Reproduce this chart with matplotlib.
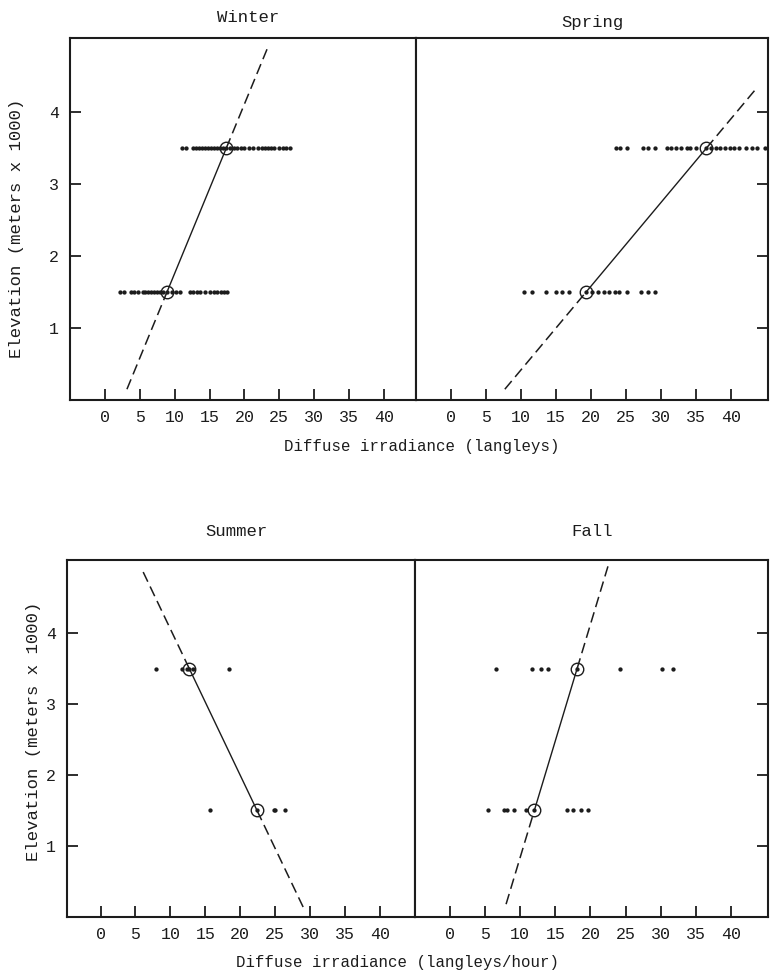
import matplotlib.pyplot as plt

# Diffuse irradiance vs. elevation, two stations, four seasons

low_elev = 1.5    # lower station (meters x 1000)
high_elev = 3.5   # upper station (meters x 1000)

# individual readings (langleys)
winter_low = [2.2, 2.7, 3.7, 4.2, 4.7, 5.4, 5.8, 6.2, 6.6, 7.0, 7.4, 7.9, 8.3, 8.9,
              9.6, 10.2, 10.8, 12.2, 12.7, 13.2, 13.7, 14.3, 15.1, 15.6, 16.1,
              16.6, 17.1, 17.5]
winter_high = [11.0, 11.6, 12.6, 13.1, 13.5, 13.9, 14.3, 14.8, 15.2, 15.6, 16.0,
               16.5, 16.9, 17.4, 18.0, 18.5, 19.0, 19.5, 20.0, 20.6, 21.2, 21.9,
               22.5, 22.9, 23.4, 23.8, 24.3, 25.0, 25.5, 26.0, 26.5]
spring_low = [10.4, 11.6, 13.6, 15.0, 15.9, 16.8, 19.3, 20.1, 21.0, 21.8, 22.6,
              23.4, 24.0, 25.1, 27.2, 28.2, 29.1]
spring_high = [23.6, 24.2, 25.2, 27.4, 28.2, 29.1, 30.8, 31.5, 32.2, 32.9, 33.7,
               34.1, 35.0, 36.5, 37.2, 37.8, 38.5, 39.2, 39.9, 40.5, 41.2, 42.1,
               43.0, 43.7, 44.9]

# hourly readings (langleys/hour)
summer_low = [15.6, 22.4, 24.8, 25.0, 26.4]
summer_high = [8.0, 11.7, 12.4, 12.7, 13.2, 18.4]
fall_low = [5.4, 7.7, 8.1, 9.1, 10.8, 12.0, 16.6, 17.5, 18.6, 19.6]
fall_high = [6.5, 11.7, 12.9, 14.0, 18.1, 24.2, 30.2, 31.7]

# seasonal means at [lower, upper] station (circled)
winter_mean = [8.9, 17.4]
spring_mean = [19.3, 36.5]
summer_mean = [22.4, 12.7]
fall_mean = [12.0, 18.1]

# elevation range over which each fitted line is drawn
winter_span = [0.15, 4.93]
spring_span = [0.15, 4.32]
summer_span = [0.14, 4.91]
fall_span = [0.18, 4.94]

xticks = [0, 5, 10, 15, 20, 25, 30, 35, 40]
yticks = [1, 2, 3, 4]

ink = '#1c1c1c'
mono = 'Liberation Mono'


def fit_x(mean, y):
    # straight line through the two station means
    return mean[0] + (y - low_elev) * (mean[1] - mean[0]) / (high_elev - low_elev)


def panel(ax, low, high, mean, span, xlim, left_side):
    ax.set_xlim(*xlim)
    ax.set_ylim(0, 5.03)
    for s in ax.spines.values():
        s.set_linewidth(1.5)
        s.set_color(ink)

    # fitted line: solid between stations, dashed beyond
    ax.plot([fit_x(mean, low_elev), fit_x(mean, high_elev)], [low_elev, high_elev],
            color=ink, lw=1.0)
    for a, b in [(span[0], low_elev), (high_elev, span[1])]:
        ax.plot([fit_x(mean, a), fit_x(mean, b)], [a, b], color=ink, lw=1.1,
                dashes=(7, 3.5))

    ax.plot(low, [low_elev] * len(low), 'o', color=ink, ms=3.1, mew=0)
    ax.plot(high, [high_elev] * len(high), 'o', color=ink, ms=3.1, mew=0)
    ax.plot(mean, [low_elev, high_elev], 'o', mfc='none', mec=ink, ms=9, mew=1.0)

    ax.set_xticks(xticks)
    ax.tick_params(axis='x', direction='in', length=8, width=1.3, color=ink,
                   pad=7, labelsize=12, labelcolor=ink)
    ax.set_yticks(yticks)
    if left_side:
        ax.tick_params(axis='y', direction='in', length=8, width=1.3, color=ink,
                       pad=8, labelsize=12, labelcolor=ink)
    else:
        ax.yaxis.tick_right()
        ax.tick_params(axis='y', direction='in', length=8, width=1.3, color=ink,
                       labelright=False)
    for lab in ax.get_xticklabels() + ax.get_yticklabels():
        lab.set_family(mono)


fig = plt.figure(figsize=(7.7, 9.73), dpi=100)

ax_w = fig.add_axes([0.0909, 0.5889, 0.4494, 0.3720])
ax_sp = fig.add_axes([0.5403, 0.5889, 0.4571, 0.3720])
ax_su = fig.add_axes([0.0870, 0.0576, 0.4519, 0.3669])
ax_f = fig.add_axes([0.5390, 0.0576, 0.4584, 0.3669])

panel(ax_w, winter_low, winter_high, winter_mean, winter_span, (-5.0, 44.6), True)
panel(ax_sp, spring_low, spring_high, spring_mean, spring_span, (-5.0, 45.3), False)
panel(ax_su, summer_low, summer_high, summer_mean, summer_span, (-4.8, 45.0), True)
panel(ax_f, fall_low, fall_high, fall_mean, fall_span, (-5.0, 45.3), False)

title_kw = dict(ha='center', va='center', fontsize=12.4, family=mono, color=ink)
fig.text(248 / 770, 1 - 18 / 973, 'Winter', **title_kw)
fig.text(592 / 770, 1 - 22 / 973, 'Spring', **title_kw)
fig.text(236 / 770, 1 - 532 / 973, 'Summer', **title_kw)
fig.text(592 / 770, 1 - 532 / 973, 'Fall', **title_kw)

xlab_kw = dict(ha='center', va='center', fontsize=11.3, family=mono, color=ink)
fig.text(422 / 770, 1 - 446 / 973, 'Diffuse irradiance (langleys)', **xlab_kw)
fig.text(397 / 770, 1 - 962 / 973, 'Diffuse irradiance (langleys/hour)', **xlab_kw)

ax_w.set_ylabel('Elevation (meters x 1000)', fontsize=12.4, family=mono, color=ink)
ax_w.yaxis.set_label_coords(-0.133, 0.475)
ax_su.set_ylabel('Elevation (meters x 1000)', fontsize=12.4, family=mono, color=ink)
ax_su.yaxis.set_label_coords(-0.075, 0.52)

fig.savefig('out.png', dpi=100)
